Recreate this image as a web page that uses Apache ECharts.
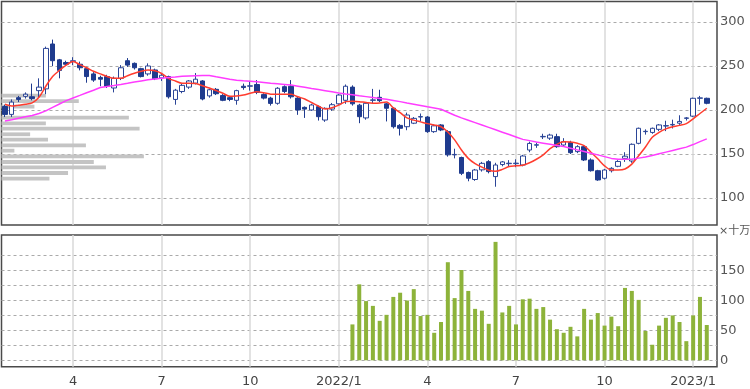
<!DOCTYPE html>
<html><head><meta charset="utf-8">
<script src="https://cdn.jsdelivr.net/npm/echarts@6/dist/echarts.min.js"></script>
<style>html,body{margin:0;padding:0;background:#fff}#c{width:750px;height:389px}</style>
</head><body><div id="c"></div>
<script>
const weeks = [
'2021-01-18','2021-01-25','2021-02-01','2021-02-08','2021-02-15','2021-02-22','2021-03-01','2021-03-08','2021-03-15','2021-03-22',
'2021-03-29','2021-04-05','2021-04-12','2021-04-19','2021-04-26','2021-05-03','2021-05-10','2021-05-17','2021-05-24','2021-05-31',
'2021-06-07','2021-06-14','2021-06-21','2021-06-28','2021-07-05','2021-07-12','2021-07-19','2021-07-26','2021-08-02','2021-08-09',
'2021-08-16','2021-08-23','2021-08-30','2021-09-06','2021-09-13','2021-09-20','2021-09-27','2021-10-04','2021-10-11','2021-10-18',
'2021-10-25','2021-11-01','2021-11-08','2021-11-15','2021-11-22','2021-11-29','2021-12-06','2021-12-13','2021-12-20','2021-12-27',
'2022-01-03','2022-01-10','2022-01-17','2022-01-24','2022-01-31','2022-02-07','2022-02-14','2022-02-21','2022-02-28','2022-03-07',
'2022-03-14','2022-03-21','2022-03-28','2022-04-04','2022-04-11','2022-04-18','2022-04-25','2022-05-02','2022-05-09','2022-05-16',
'2022-05-23','2022-05-30','2022-06-06','2022-06-13','2022-06-20','2022-06-27','2022-07-04','2022-07-11','2022-07-18','2022-07-25',
'2022-08-01','2022-08-08','2022-08-15','2022-08-22','2022-08-29','2022-09-05','2022-09-12','2022-09-19','2022-09-26','2022-10-03',
'2022-10-10','2022-10-17','2022-10-24','2022-10-31','2022-11-07','2022-11-14','2022-11-21','2022-11-28','2022-12-05','2022-12-12',
'2022-12-19','2022-12-26','2023-01-02','2023-01-09','2023-01-16'];

// [open, close, low, high]
const ohlc = [
[204,195,192,206],[195,209,192,212],[214,212,209,216],[215.5,218,213,220],[215,213,211,230],
[222,226,214,236],[224,270,218,272],[275,256,250,280],[257,245,236,258],[254,252,250,256],
[255,256,251,260],[252,248,245,255],[247,238,231,249],[241,234,232,243],[237,235,227,239],
[238,227,225,240],[225,236,220,238],[236,248,234,251],[256,251,249,259],[253,248,246,254],
[247,238,237,248],[241,250,239,253],[245.5,235.5,234,247],[236.5,239.5,233,241],[238,215,213,239],
[212,222.5,206,224],[221,228,219,230],[226,233,224,234],[230.5,235,229,242],[233,212.5,211,234],
[216,223,214,224],[223.5,218.5,217,225],[216.5,211,210,218],[214,212,210,216],[211,222,206,223],
[227,225.5,223,230],[227,227.5,222,233],[229,220,218,234],[217.5,213.5,212,219],[213.5,207.5,205,215],
[207.6,224.7,206,226],[226.5,221,219,228],[227,215,213,234],[213.5,200,194.5,215],[203,201,191,204],
[200,205.7,199,207],[203.8,192.4,188,205],[188.6,201.9,186.5,203],[201,206,199,208],[207,217,206,218],
[211,227,207,229],[226,207,205,228],[205.5,192.4,185,207],[191,207.6,189,209],[211,211.5,207.6,224],
[214.4,210.6,209,223],[207,202,187,208],[202,181,179,203],[182.5,179.2,171,184],[181,194.3,177,197],
[185,190.5,184,192],[192,192.5,187,196],[192,175.4,174,193],[175.4,182,174,183.5],[183,177.3,176,184],
[175.4,149,147,177],[149,149.5,145,156],[146,128,126,147],[129,122.5,119,130],[121,131.8,119.5,133],
[132,139.4,130,141],[141.3,130,128,143],[124.3,137.5,112.8,140],[138,141,136,142],[139,139.5,136,143],
[139,139.6,135,144],[137.5,147.7,136,149],[154.5,162,152,164],[160,160.5,157,163],[169.5,170,167,173],
[168,171.5,166,173],[169.7,158.3,157,173],[160.2,164,158,168],[163,151.5,150,165],[152.7,158.3,151,160],
[158.3,143.2,142,160],[143.2,131,130,145],[131,120.5,119.5,132],[122.4,131.8,121,133],[131,133.7,129,135],
[136,141.5,135,143],[145,147.5,141,152],[142,161,140,162],[162.1,179.2,161,180],[175.4,175.8,172,178],
[174.5,179.2,173,180],[178,183,176,184],[181.8,182.2,176,187.8],[183,183.6,179,189],[185,187,183,194],
[190.5,191,188,192],[193,213.3,192,214],[213.3,213.8,206,216],[213.3,207.6,206.5,214]];

const maShort = [
206.5,204.5,205.5,206.5,208,214.5,227,238,245,251,
255,251.5,248,244,241,238,236,236,239,241.7,
244,245.5,244.5,241.5,236,233,230.4,230.4,230,227.5,
225,222,219,215.5,216,217,219,220.8,219.5,218,
217.8,217.8,217.8,215,212.5,208.5,204.5,201,202.5,205.5,
209.5,210,209.5,208.5,207.8,208,209,202.5,197,191,
188.5,186.5,184.5,183,181,175,166,154.5,145,139,
135,131.5,130.5,132.5,135.8,136.5,137.3,140,144,149,
156,161,163.8,163.5,162.2,159.5,152,144.5,136.5,131.8,
131.8,133,138.5,148,158,169,174.5,178.5,181,182.5,
184.5,190,196,202];

const maLong = [
187.5,189,190.7,192.3,193.8,196,199,203,206.8,210.6,
213.7,216.6,219.6,222.5,225.5,226.7,227.8,229,230.3,231.7,
233,234.3,235.3,236.1,236.9,237.6,238.4,238.7,239,239.2,
239.1,237.7,236.4,235,233.9,233.2,232.6,232,231.3,230.5,
229.8,229.1,228.4,227.1,225.8,224.5,223.3,222,220.7,219.4,
218.3,217.3,216.2,215.2,214.2,213.1,212.1,210.9,209.5,208,
206.6,205.2,203.7,202.3,200.8,197.5,194,191,188.3,185.6,
182.9,180.2,177.5,174.8,172.1,169.4,166.6,165.2,163.6,162.3,
161,159.7,158.5,156.6,154.7,152.8,150.9,149,147,145,
144,144,144,145.3,146.6,148.3,150.2,152.1,154,155.9,
157.8,160.7,164,167.2];

const volumeStart = '2022-01-10';
const volume = [60,127,99,91,66,76,106,113,100,119,74,76,46,64,164,104,151,116,86,83,61,198,80,91,
60,102,103,86,89,68,52,46,56,40,86,68,79,58,73,57,121,116,101,49,26,58,71,75,64,32,75,106,59];

const tickWeeks = ['2021-03-29','2021-06-28','2021-09-27','2021-12-27','2022-03-28','2022-06-27','2022-09-26','2022-12-26'];
const tickLabels = ['4','7','10','2022/1','4','7','10','2023/1'];

const profilePrice = [216.3,210.2,203.8,191.3,184.9,178.8,172.4,166.3,159.9,153.8,147.4,140.9,134.9,128.4,121.9];
const profileShare = [6.2,10.8,4.6,17.8,6.2,19.3,4.0,6.5,11.8,1.8,19.9,12.9,14.6,9.3,6.7];

const priceTicks = [100,150,200,250,300];
const volLabelTicks = [0,50,100,150];
const volGridTicks = [0,25,50,75,100,125,150,175];

const FONT = 'DejaVu Sans';
const vStart = weeks.indexOf(volumeStart);
const volData = weeks.map((w,i)=>{const k=i-vStart;return (k>=0&&k<volume.length)?volume[k]:null;});
const isTick = (i, v) => tickWeeks.indexOf(v) >= 0;

const chart = echarts.init(document.getElementById('c'), null, {renderer:'canvas'});
chart.setOption({
  animation:false,
  backgroundColor:'#fff',
  title:{text:'×十万', left:719, top:226, padding:0,
    textStyle:{fontSize:11, color:'#555', fontWeight:'normal', fontFamily:FONT+', Noto Sans CJK JP'}},
  grid:[
    {left:1.5, right:33, top:1.5, height:223.5, show:true, borderColor:'#4a4a4a', borderWidth:1.5, backgroundColor:'transparent'},
    {left:1.5, right:33, top:235, height:131.7, show:true, borderColor:'#4a4a4a', borderWidth:1.5, backgroundColor:'transparent'}
  ],
  xAxis:[
    {type:'category', gridIndex:0, data:weeks, boundaryGap:true,
      axisLine:{show:false}, axisTick:{show:false}, axisLabel:{show:false},
      splitLine:{show:true, interval:isTick, alignWithLabel:true, lineStyle:{color:'#d9d9d9', width:1.5}}},
    {type:'category', gridIndex:1, data:weeks, boundaryGap:true,
      axisLine:{show:false}, axisTick:{show:false},
      axisLabel:{show:true, interval:isTick, margin:8, color:'#444', fontSize:13, fontFamily:FONT,
        formatter:(v)=>{const k=tickWeeks.indexOf(v);return k>=0?tickLabels[k]:'';}},
      splitLine:{show:true, interval:isTick, alignWithLabel:true, lineStyle:{color:'#d9d9d9', width:1.5}}},
    {type:'value', gridIndex:0, min:0, max:100, show:false, splitLine:{show:false}}
  ],
  yAxis:[
    {type:'value', gridIndex:0, position:'right', min:69.3, max:323.3, scale:true,
      axisLine:{show:false}, axisTick:{show:false, customValues:priceTicks},
      axisLabel:{customValues:priceTicks, margin:3, color:'#555', fontSize:13, fontFamily:FONT},
      splitLine:{show:true, lineStyle:{color:'#aaa', type:[3,3], width:1}}},
    {type:'value', gridIndex:1, position:'right', min:-10.7, max:209.5,
      axisLine:{show:false}, axisTick:{show:false, customValues:volGridTicks},
      axisLabel:{customValues:volLabelTicks, margin:3, color:'#555', fontSize:13, fontFamily:FONT},
      splitLine:{show:true, lineStyle:{color:'#aaa', type:[3,3], width:1}}}
  ],
  series:[
    {type:'custom', xAxisIndex:2, yAxisIndex:0, z:1, silent:true,
      data:profilePrice.map((p,i)=>[profileShare[i], p]),
      encode:{x:0, y:1},
      renderItem:(params, api)=>{
        const v=api.value(0), p=api.value(1);
        const a=api.coord([0,p]), b=api.coord([v,p]);
        const h=Math.abs(api.size([0,4.3])[1]);
        return {type:'rect', shape:{x:a[0], y:a[1]-h/2, width:b[0]-a[0], height:h}, style:{fill:'#c4c4c4'}};
      }},
    {type:'candlestick', xAxisIndex:0, yAxisIndex:0, z:3, data:ohlc, barWidth:5,
      itemStyle:{color:'#ffffff', color0:'#1f3b8e', borderColor:'#2b4597', borderColor0:'#1f3b8e', borderWidth:1}},
    {type:'line', xAxisIndex:0, yAxisIndex:0, z:4, data:maShort, symbol:'none', smooth:0.3,
      lineStyle:{color:'#ff3c2e', width:1.5}},
    {type:'line', xAxisIndex:0, yAxisIndex:0, z:4, data:maLong, symbol:'none', smooth:false,
      lineStyle:{color:'#ff3cff', width:1.5}},
    {type:'bar', xAxisIndex:1, yAxisIndex:1, data:volData, barWidth:4,
      itemStyle:{color:'#8db33a'}}
  ]
});
</script></body></html>
